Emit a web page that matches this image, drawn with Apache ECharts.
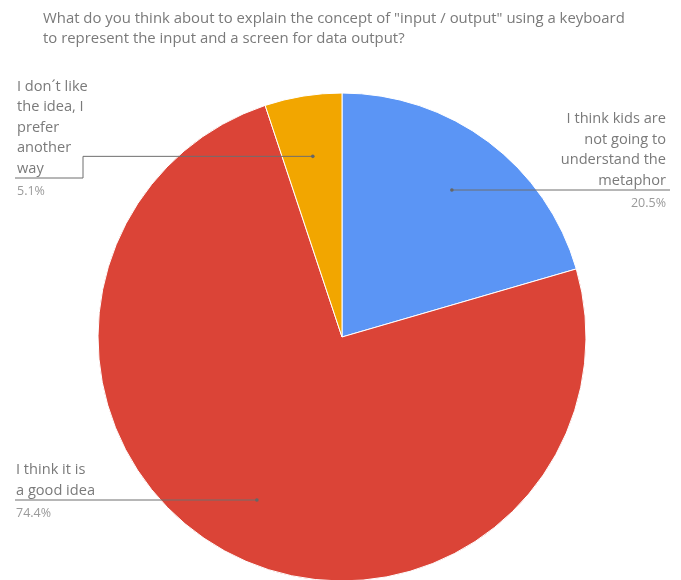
<!DOCTYPE html>
<html>
<head>
<meta charset="utf-8">
<script src="https://cdn.jsdelivr.net/npm/echarts@6/dist/echarts.min.js"></script>
<style>
  html, body { margin: 0; padding: 0; background: #fff; }
  #chart { width: 681px; height: 580px; }
</style>
</head>
<body>
<div id="chart"></div>
<script>
// Survey answers, in clockwise order from 12 o'clock
const answers = [
  'I think kids are\nnot going to\nunderstand the\nmetaphor',
  'I think it is\na good idea',
  'I don\u00b4t like\nthe idea, I\nprefer\nanother\nway'
];
const shares = [20.5, 74.4, 5.1];
const sliceColors = ['#5b95f5', '#db4437', '#f2a600'];
const titleText = 'What do you think about to explain the concept of "input / output" using a keyboard\nto represent the input and a screen for data output?';

const CX = 342, CY = 337, R = 244;
const LINE_H = 20.5;

// Where each label's text block sits and how its leader line bends
const labelSpots = [
  { side: 'right', textX: 666, lineY: 190, endX: 670, bendX: null },
  { side: 'left',  textX: 16,  lineY: 500, endX: 15,  bendX: null },
  { side: 'left',  textX: 17,  lineY: 178, endX: 15,  bendX: 83 }
];

const total = shares.reduce((a, b) => a + b, 0);
// Anchor each leader line inside its slice, at 3/4 of the radius on the mid angle
function anchorOf(i) {
  let before = 0;
  for (let k = 0; k < i; k++) before += shares[k];
  const mid = (before + shares[i] / 2) / total * Math.PI * 2;
  return [CX + Math.sin(mid) * R * 0.75, CY - Math.cos(mid) * R * 0.75];
}

function leaderPoints(i) {
  const spot = labelSpots[i];
  const a = anchorOf(i);
  if (spot.bendX === null) {
    return [[a[0], spot.lineY], [spot.endX, spot.lineY]];
  }
  return [a, [spot.bendX, a[1]], [spot.bendX, spot.lineY], [spot.endX, spot.lineY]];
}

const pieData = answers.map((name, i) => ({ name: name, value: shares[i] }));

const chart = echarts.init(document.getElementById('chart'), null, { renderer: 'canvas' });

chart.setOption({
  animation: false,
  title: {
    text: titleText,
    left: 38,
    top: 4,
    textStyle: {
      fontFamily: 'Open Sans',
      fontSize: 14.9,
      fontWeight: 'normal',
      color: '#7a7a7a',
      lineHeight: 20
    }
  },
  // small dots where the leader lines start
  graphic: answers.map((_, i) => {
    const p = leaderPoints(i)[0];
    return {
      type: 'circle',
      z: 100,
      shape: { cx: p[0], cy: p[1], r: 1.8 },
      style: { fill: '#666666' }
    };
  }),
  series: [
    {
      // filled slices
      type: 'pie',
      z: 2,
      center: [CX, CY],
      radius: [0, R],
      startAngle: 90,
      clockwise: true,
      silent: true,
      itemStyle: { borderColor: '#ffffff', borderWidth: 1 },
      label: { show: false },
      labelLine: { show: false },
      data: pieData.map((d, i) => ({ ...d, itemStyle: { color: sliceColors[i] } }))
    },
    {
      // transparent copy on top that carries the labels and leader lines
      type: 'pie',
      z: 5,
      center: [CX, CY],
      radius: [0, R],
      startAngle: 90,
      clockwise: true,
      silent: true,
      avoidLabelOverlap: false,
      itemStyle: { color: 'rgba(0,0,0,0)', borderWidth: 0 },
      data: pieData,
      label: {
        show: true,
        position: 'outside',
        formatter: p => '{n|' + p.name.split('\n').join('}\n{n|') + '}\n{p|' + p.value.toFixed(1) + '%}',
        rich: {
          n: { fontFamily: 'Open Sans', fontSize: 14.6, color: '#7a7a7a', lineHeight: LINE_H },
          p: { fontFamily: 'Open Sans', fontSize: 12.5, color: '#9a9a9a', lineHeight: 25 }
        }
      },
      labelLine: {
        show: true,
        lineStyle: { color: '#6e6e6e', width: 1 }
      },
      labelLayout: function (params) {
        const i = params.dataIndex;
        const spot = labelSpots[i];
        const lines = answers[i].split('\n').length;
        return {
          x: spot.textX,
          y: spot.lineY - lines * LINE_H + 1,
          align: spot.side,
          verticalAlign: 'top',
          labelLinePoints: leaderPoints(i)
        };
      }
    }
  ]
});
</script>
</body>
</html>
